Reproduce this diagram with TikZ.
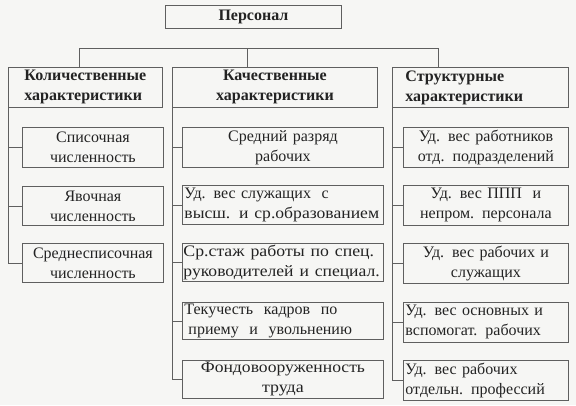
\documentclass[tikz,border=0pt]{standalone}
\usepackage{graphicx}
\usepackage{fontspec}
\setmainfont{Liberation Serif}
\definecolor{linec}{RGB}{95,95,95}
\definecolor{textc}{RGB}{35,35,35}
\definecolor{bgc}{RGB}{246,246,244}
\tikzset{
  box/.style={draw=linec, line width=0.9pt, inner ysep=0pt, anchor=north west,
    text=textc, font=\fontsize{16}{20}\selectfont},
  head/.style={box, font=\fontsize{16}{20}\selectfont\bfseries},
  conn/.style={draw=linec, line width=0.9pt},
}
\newcommand\wide[2]{\scalebox{#1}[1]{#2}}
% #1 style, #2 name, #3 x1, #4 y1, #5 x2, #6 y2, #7 align, #8 pad, #9 text
\newcommand\bx[9]{%
  \pgfmathsetmacro\bxw{#5-#3}%
  \pgfmathsetmacro\bxh{#6-#4}%
  \pgfmathsetmacro\bxt{#5-#3-2*#8}%
  \node[#1, minimum width=\bxw pt, minimum height=\bxh pt, text width=\bxt pt,
        inner xsep=#8pt, align=#7] (#2) at (#3,#4) {#9};%
}
\begin{document}
\begin{tikzpicture}[x=1pt,y=-1pt]
\fill[bgc] (0,0) rectangle (576,405);
\useasboundingbox (0,0) rectangle (576,405);

\bx{head}{P}{165}{5}{341}{28}{center}{2}{Персонал}
\bx{head}{K1}{8}{67}{162}{107}{left}{16}{Количественные\\характеристики}
\bx{head}{K2}{172}{67}{377}{107}{center}{4}{Качественные\\характеристики}
\bx{head}{K3}{392}{67}{568}{107}{left}{13}{Структурные\\характеристики}

\bx{box}{L1}{22}{127}{163}{167}{center}{2}{Списочная\\численность}
\bx{box}{L2}{22}{186}{163}{225}{center}{2}{Явочная\\численность}
\bx{box}{L3}{22}{243}{163}{282}{center}{2}{Среднесписочная\\численность}

\bx{box}{M1}{182}{127}{383}{167}{center}{2}{Средний разряд\\рабочих}
\bx{box}{M2}{182}{185}{383}{224}{left}{2}{Уд. вес служащих\ \ с\\\wide{1.1}{высш. и ср.образованием}}
\bx{box}{M3}{182}{243}{383}{281}{left}{1}{\wide{1.11}{Ср.стаж работы по спец.}\\\wide{1.1}{руководителей и специал.}}
\bx{box}{M4}{182}{302}{383}{339}{left}{2}{Текучесть\ \ кадров\ \ по\\\hspace*{4pt}приему\ \ и\ \ увольнению}
\bx{box}{M5}{182}{360}{383}{398}{center}{2}{\wide{1.1}{Фондовооруженность}\\\wide{1.12}{труда}}

\bx{box}{R1}{403}{127}{568}{167}{center}{2}{Уд. вес работников\\отд. подразделений}
\bx{box}{R2}{403}{185}{568}{225}{center}{2}{Уд. вес ППП\ \ и\\непром. персонала}
\bx{box}{R3}{403}{243}{568}{283}{center}{2}{Уд. вес рабочих и\\служащих}
\bx{box}{R4}{403}{302}{568}{342}{left}{2}{Уд. вес основных и\\вспомогат. рабочих}
\bx{box}{R5}{403}{360}{568}{400}{left}{2}{Уд. вес рабочих\\отдельн. профессий}

\coordinate (b1) at (79,48);
\coordinate (b2) at (247,48);
\coordinate (b3) at (438,48);
\draw[conn] (b1) -- (b3);
\draw[conn] (b1) -- (b1 |- K1.north);
\draw[conn] (b2) -- (b2 |- K2.north);
\draw[conn] (b3) -- (b3 |- K3.north);

\draw[conn] (K1.south west) -- (K1.south west |- L3.west) -- (L3.west);
\foreach \c in {L1,L2} \draw[conn] (K1.south west |- \c.west) -- (\c.west);

\draw[conn] (K2.south west) -- (K2.south west |- M5.west) -- (M5.west);
\foreach \c in {M1,M2,M3,M4} \draw[conn] (K2.south west |- \c.west) -- (\c.west);

\draw[conn] (K3.south west) -- (K3.south west |- R5.west) -- (R5.west);
\foreach \c in {R1,R2,R3,R4} \draw[conn] (K3.south west |- \c.west) -- (\c.west);
\end{tikzpicture}
\end{document}
